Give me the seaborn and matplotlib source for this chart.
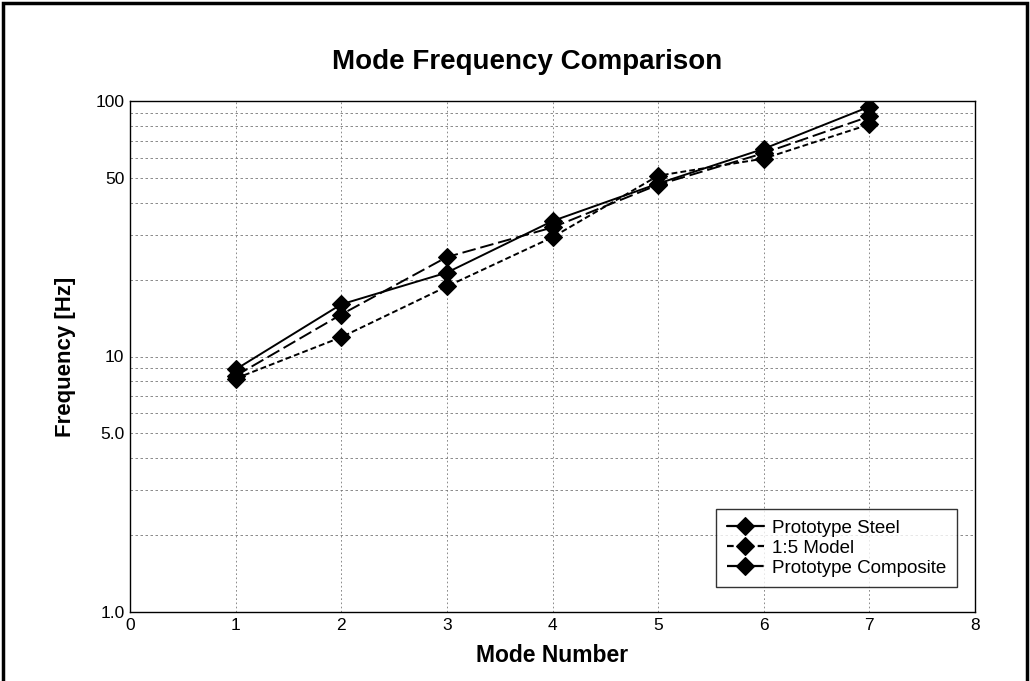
import numpy as np
import pandas as pd
import matplotlib
matplotlib.use("Agg")
import matplotlib.pyplot as plt
import seaborn as sns
from matplotlib.ticker import FixedLocator, NullFormatter, FixedFormatter

modes = [1, 2, 3, 4, 5, 6, 7]
steel = [8.9, 16.0, 21.3, 33.9, 47.5, 65.0, 95.0]
model = [8.2, 11.9, 18.8, 29.3, 51.0, 59.5, 81.0]
composite = [8.4, 14.6, 24.5, 32.0, 47.0, 62.5, 87.0]
series_names = ["Prototype Steel", "1:5 Model", "Prototype Composite"]
ytick_vals = [1, 5, 10, 50, 100]
ytick_labels = ["1.0", "5.0", "10", "50", "100"]

df = pd.concat([
    pd.DataFrame({"Mode": modes, "Freq": v, "Series": n})
    for n, v in zip(series_names, [steel, model, composite])
])

sns.set_theme(style="white")
plt.rcParams['font.family'] = ['Liberation Sans', 'DejaVu Sans']
plt.rcParams['text.color'] = 'black'
plt.rcParams['axes.labelcolor'] = 'black'
plt.rcParams['xtick.color'] = 'black'
plt.rcParams['ytick.color'] = 'black'

fig = plt.figure(figsize=(10.30, 6.81), dpi=100)
L, R, T, B = 130, 975, 101, 612
ax = fig.add_axes([L / 1030, (681 - B) / 681, (R - L) / 1030, (B - T) / 681])

dashes = {"Prototype Steel": "", "1:5 Model": (3, 1.6), "Prototype Composite": (7, 2.5)}
sns.lineplot(data=df, x="Mode", y="Freq", hue="Series", style="Series",
             hue_order=series_names, style_order=series_names,
             palette=["black"] * 3, dashes=dashes,
             markers={n: "D" for n in series_names}, markersize=9,
             markeredgecolor="black", markeredgewidth=0.8,
             linewidth=1.4, ax=ax)

ax.set_yscale("log")
ax.set_xlim(0, 8)
ax.set_ylim(1, 100)
ax.set_xticks(range(0, 9))
ax.yaxis.set_major_locator(FixedLocator(ytick_vals))
ax.yaxis.set_major_formatter(FixedFormatter(ytick_labels))
ax.yaxis.set_minor_locator(FixedLocator([2, 3, 4, 6, 7, 8, 9, 20, 30, 40, 60, 70, 80, 90]))
ax.yaxis.set_minor_formatter(NullFormatter())
ax.tick_params(axis="both", which="both", length=0, labelsize=12.5, pad=4)

ax.grid(True, which="both", axis="y", color="#777777", linestyle=(0, (3, 3)), linewidth=0.6)
ax.grid(True, which="major", axis="x", color="#777777", linestyle=(0, (2, 3)), linewidth=0.6)

for s in ax.spines.values():
    s.set_color("black")
    s.set_linewidth(1.0)

ax.set_xlabel("Mode Number", fontsize=16.5, fontweight="bold", labelpad=8)
ax.set_ylabel("Frequency [Hz]", fontsize=16, fontweight="bold", labelpad=14)
fig.text(527 / 1030, 1 - 62 / 681, "Mode Frequency Comparison", fontsize=20,
         fontweight="bold", ha="center", va="center")

leg = ax.legend(loc="lower right", frameon=True, fontsize=13.5, handlelength=2.0,
                handletextpad=0.45, borderpad=0.55, labelspacing=0.15, fancybox=False,
                borderaxespad=0, markerscale=1.0,
                bbox_to_anchor=((957 - L) / (R - L), (B - 587) / (B - T)))
leg.get_frame().set_edgecolor("black")
leg.get_frame().set_linewidth(1.0)
for h in leg.legend_handles:
    h.set_markeredgecolor("black")
    h.set_linewidth(1.6)

fig.patches.append(plt.Rectangle((0.003, -0.01), 0.994, 1.005, transform=fig.transFigure,
                                 fill=False, edgecolor="black", linewidth=2.5))

fig.savefig("out.png", dpi=100)
